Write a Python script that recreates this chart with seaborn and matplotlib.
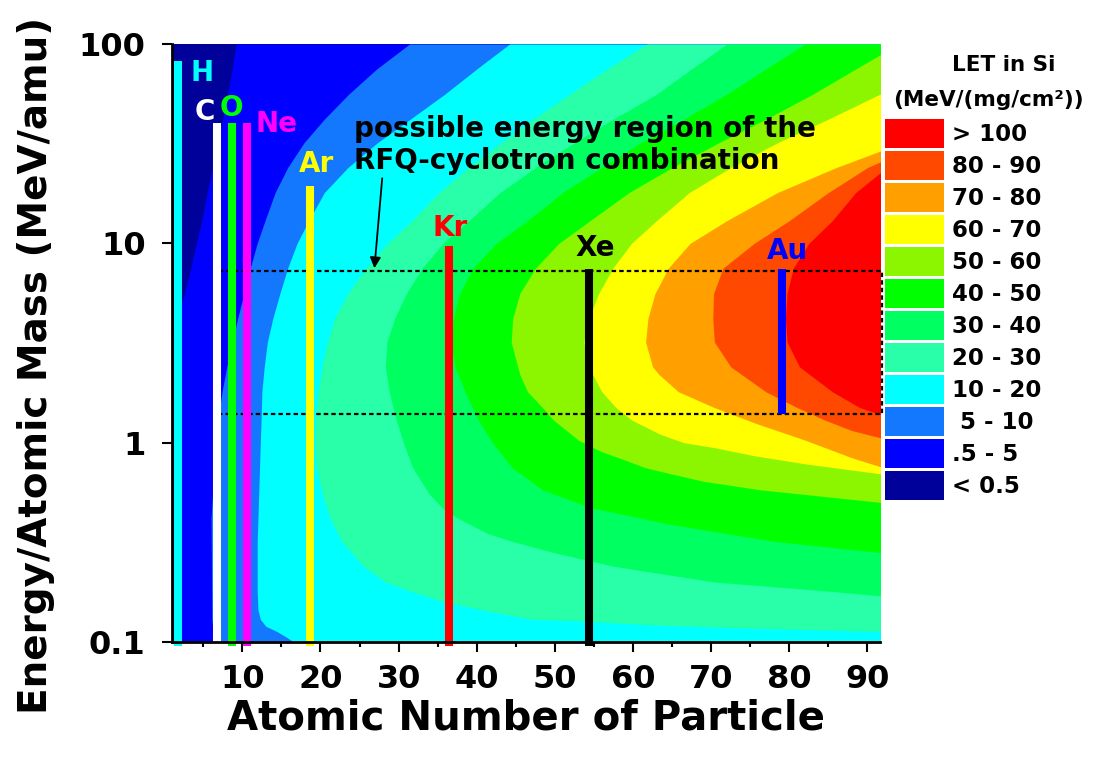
import numpy as np
import pandas as pd
import matplotlib
matplotlib.use("Agg")
import matplotlib.pyplot as plt
import seaborn as sns
from matplotlib.patches import Patch
from matplotlib.ticker import FixedLocator, NullLocator

# ------------------------------------------------------------------
# Data
# LET-in-Si band boundaries: for each level, the atomic number Z at which
# the LET reaches that level, at a set of energies (MeV/amu).
# 100 means "beyond the right edge of the chart".
# ------------------------------------------------------------------
let_0p5_e = [100, 75, 56, 42, 32, 24, 18, 13, 10, 7.5, 5.6, 4.2, 3.4, 0.1]
let_0p5_z = [9.2, 8.7, 8.1, 7.5, 6.8, 6.2, 5.5, 4.8, 4.1, 3.4, 2.6, 1.6, 1.0, 1.0]

let_5_e = [100, 75, 56, 42, 32, 24, 18, 13, 10, 7.5, 5.6, 4.2, 3.2, 2.4, 1.8, 1.3,
           1.0, 0.75, 0.56, 0.42, 0.13, 0.1]
let_5_z = [31.4, 27.2, 23.6, 20.5, 17.9, 15.8, 14.2, 12.9, 11.9, 11.0, 10.2, 9.4,
           8.7, 8.0, 7.4, 6.9, 6.6, 6.4, 6.2, 6.0, 6.1, 6.4]

let_10_e = [100, 75, 56, 42, 32, 24, 18, 13, 10, 7.5, 5.6, 4.2, 3.2, 2.4, 1.8, 1.3,
            1.0, 0.75, 0.56, 0.42, 0.32, 0.24, 0.18, 0.145, 0.13, 0.12, 0.113,
            0.106, 0.1]
let_10_z = [44.2, 40.0, 35.9, 31.5, 27.3, 23.5, 20.5, 18.5, 17.0, 15.8, 14.8, 13.9,
            13.2, 12.8, 12.5, 12.4, 12.3, 12.2, 12.1, 12.0, 11.9, 11.9, 11.9, 12.0,
            12.3, 13.0, 14.4, 15.6, 16.6]

let_20_e = [100, 75, 56, 42, 32, 24, 18, 13, 10, 7.5, 5.6, 4.2, 3.2, 2.4, 1.8, 1.3,
            1.0, 0.75, 0.56, 0.42, 0.32, 0.24, 0.2, 0.18, 0.16, 0.143, 0.13, 0.128,
            0.122, 0.117, 0.113, 0.1]
let_20_z = [61.8, 56.7, 51.9, 47.2, 43.1, 38.9, 35.2, 31.7, 28.6, 25.8, 23.5, 21.8,
            20.9, 20.2, 19.7, 19.4, 19.3, 19.5, 20.2, 21.2, 22.7, 25.5, 28.3, 31.5,
            35.6, 41.4, 47, 53, 62, 76, 92, 100]

let_30_e = [100, 75, 56, 42, 32, 24, 18, 13, 10, 7.5, 5.6, 4.2, 3.2, 2.4, 1.8, 1.3,
            1.0, 0.75, 0.56, 0.47, 0.42, 0.35, 0.32, 0.28, 0.24, 0.2, 0.18, 0.17, 0.1]
let_30_z = [72, 67.5, 63, 57.5, 52.5, 47.5, 43, 39, 35.7, 33, 31, 29.5, 28.5, 28.3,
            28.8, 29.7, 30.6, 31.8, 33.8, 35.6, 37.5, 41.4, 44.5, 50, 57.5, 70.4, 85,
            92, 100]

let_40_e = [100, 75, 56, 42, 32, 24, 18, 13, 10, 7.5, 5.6, 4.2, 3.2, 2.4, 1.8, 1.3,
            1.0, 0.75, 0.58, 0.47, 0.39, 0.32, 0.28, 0.1]
let_40_z = [82, 77, 72, 66.5, 61, 56, 51, 46.5, 42.5, 39.5, 37.8, 37, 36.7, 37.2,
            38.5, 40.2, 42, 44.5, 48.4, 54.8, 64.7, 78, 92, 100]

let_50_e = [100, 75, 56, 42, 32, 24, 18, 13, 10, 7.5, 5.6, 4.2, 3.2, 2.2, 1.8, 1.5,
            1.3, 1.03, 0.9, 0.82, 0.75, 0.7, 0.64, 0.58, 0.5, 0.1]
let_50_z = [94, 88.5, 83, 77, 71, 65, 59.5, 54.5, 50.5, 47.5, 45.5, 44.6, 44.4, 45.5,
            46.5, 48.4, 49.8, 53, 56, 58.9, 61.5, 64.7, 69, 76.3, 92, 100]

let_60_e = [100, 75, 57, 42, 32, 24, 18, 13, 10, 7.5, 5.6, 4.2, 3.2, 2.4, 1.8, 1.5,
            1.3, 1.1, 1.0, 0.944, 0.86, 0.783, 0.695, 0.1]
let_60_z = [100, 97, 92, 85, 78.5, 72.5, 67.2, 63, 59.8, 57.4, 55.6, 54.3, 53.7, 54.3,
            56, 57.8, 59.8, 63.5, 66.5, 70.4, 75.5, 82, 92, 100]

let_70_e = [100, 32, 29.4, 24, 18, 13, 10, 7.5, 5.6, 4.2, 3.2, 2.4, 2.2, 1.8, 1.5,
            1.25, 1.03, 0.84, 0.75, 0.1]
let_70_z = [100, 94, 92, 86, 78.5, 72, 67.3, 64.5, 62.8, 61.9, 61.6, 62.5, 63.3, 65.8,
            70.4, 75.7, 82, 88, 92, 100]

let_80_e = [100, 32, 27.7, 26, 24, 18, 13, 10, 7.5, 5.6, 4.2, 3.2, 2.4, 1.8, 1.5, 1.3,
            1.15, 1.05, 0.1]
let_80_z = [100, 100, 94, 92, 90, 85, 80, 75.5, 71.5, 70.3, 70.2, 70.4, 72.5, 77, 81,
            84.5, 88, 92, 100]

let_90_e = [100, 26, 23.2, 18, 13, 10, 7.5, 5.6, 4.2, 3.2, 2.4, 1.8, 1.5, 1.37, 0.1]
let_90_z = [100, 100, 92, 88.5, 85.5, 82.5, 80.5, 79.7, 79.5, 79.7, 81.3, 85.5, 89,
            92, 100]

# Legend categories (bottom band first)
band_labels = ["< 0.5", ".5 - 5", " 5 - 10", "10 - 20", "20 - 30", "30 - 40",
               "40 - 50", "50 - 60", "60 - 70", "70 - 80", "80 - 90", "> 100"]
band_colors = ["#00009a", "#0000ff", "#1478ff", "#00ffff", "#28ffa8", "#00ff60",
               "#00ff00", "#8cf500", "#ffff00", "#ffa000", "#ff4800", "#ff0000"]

# Ion beams: name, drawn atomic-number position, energy range (MeV/amu)
ions = ["H", "C", "O", "Ne", "Ar", "Kr", "Xe", "Au"]
ion_z = [1.8, 6.8, 8.7, 10.6, 18.7, 36.4, 54.3, 79.0]
ion_e_top = [82, 40, 40, 40, 19.5, 9.7, 7.4, 7.4]
ion_e_bottom = [0.096, 0.1, 0.096, 0.096, 0.096, 0.096, 0.096, 1.4]
ion_colors = ["#00ffff", "#ffffff", "#00ff00", "#ff00ff", "#ffff00", "#ff0000",
              "#000000", "#0000ff"]
ion_label_z = [4.9, 5.25, 8.6, 14.35, 19.5, 36.6, 55.2, 79.8]
ion_label_e = [71.5, 45.5, 47.6, 39.6, 24.9, 11.9, 9.44, 9.12]

# RFQ-cyclotron region
rect_z = [6.9, 91.8]
rect_e = [1.4, 7.3]
arrow_start = (27.9, 21.2)
arrow_end = (26.9, 7.5)

# ------------------------------------------------------------------
sns.set_theme(style="white")
plt.rcParams["font.family"] = ["DejaVu Sans"]
plt.rcParams["font.weight"] = "bold"
plt.rcParams["lines.solid_capstyle"] = "butt"

fig = plt.figure(figsize=(11.1, 7.62), dpi=100, facecolor="white")
ax = fig.add_axes([172 / 1110, 1 - 642 / 762, 708 / 1110, 598 / 762])

ax.set_yscale("log")
ax.set_xlim(1, 91.6)
ax.set_ylim(0.1, 100)
ax.set_facecolor(band_colors[0])

boundaries = [
    (let_0p5_e, let_0p5_z), (let_5_e, let_5_z), (let_10_e, let_10_z),
    (let_20_e, let_20_z), (let_30_e, let_30_z), (let_40_e, let_40_z),
    (let_50_e, let_50_z), (let_60_e, let_60_z), (let_70_e, let_70_z),
    (let_80_e, let_80_z), (let_90_e, let_90_z),
]
for (e, z), col in zip(boundaries, band_colors[1:]):
    ax.fill_betweenx(e, z, 100, color=col, lw=0, zorder=1)

# dotted RFQ-cyclotron rectangle
rz = [rect_z[0], rect_z[1], rect_z[1], rect_z[0], rect_z[0]]
re = [rect_e[0], rect_e[0], rect_e[1], rect_e[1], rect_e[0]]
ax.plot(rz, re, color="black", lw=1.6, ls=(0, (2.0, 1.4)), zorder=3, clip_on=False)

# ion beam lines via seaborn
ion_df = pd.DataFrame({
    "ion": np.repeat(ions, 2),
    "Z": np.repeat(ion_z, 2),
    "E": np.ravel(np.column_stack([ion_e_bottom, ion_e_top])),
})
sns.lineplot(data=ion_df, x="Z", y="E", hue="ion", estimator=None, sort=False,
             palette=dict(zip(ions, ion_colors)), linewidth=5.8, legend=False,
             ax=ax, zorder=4, clip_on=False)

for name, zx, ey, col in zip(ions, ion_label_z, ion_label_e, ion_colors):
    ax.text(zx, ey, name, color=col, fontsize=20, fontweight="bold",
            ha="center", va="center", zorder=5)

ax.text(24.3, 31.1, "possible energy region of the\nRFQ-cyclotron combination",
        fontsize=20, fontweight="bold", color="black", ha="left", va="center",
        linespacing=1.15, zorder=5)
ax.annotate("", xy=arrow_end, xytext=arrow_start,
            arrowprops=dict(arrowstyle="-|>", color="black", lw=1.3,
                            mutation_scale=16, shrinkA=0, shrinkB=0), zorder=5)

# axes styling
for s in ["top", "right"]:
    ax.spines[s].set_visible(False)
for s in ["left", "bottom"]:
    ax.spines[s].set_color("black")
    ax.spines[s].set_linewidth(2)
    ax.spines[s].set_zorder(6)

ax.xaxis.set_major_locator(FixedLocator([10, 20, 30, 40, 50, 60, 70, 80, 90]))
ax.xaxis.set_minor_locator(FixedLocator([5, 15, 25, 35, 45, 55, 65, 75, 85]))
ax.yaxis.set_major_locator(FixedLocator([0.1, 1, 10, 100]))
ax.yaxis.set_minor_locator(NullLocator())
ax.set_yticklabels(["0.1", "1", "10", "100"])
ax.tick_params(axis="both", which="major", direction="out", length=7, width=1.5,
               color="black", labelsize=23, labelcolor="black")
ax.tick_params(axis="x", which="major", pad=9, bottom=True)
ax.tick_params(axis="y", which="major", pad=12, left=True)
ax.tick_params(axis="x", which="minor", direction="out", length=3.5, width=1.5,
               color="black", bottom=True)
for lab in ax.get_xticklabels() + ax.get_yticklabels():
    lab.set_fontweight("bold")

ax.set_xlabel("Atomic Number of Particle", fontsize=29, fontweight="bold",
              color="black")
ax.set_ylabel("Energy/Atomic Mass (MeV/amu)", fontsize=28, fontweight="bold",
              color="black")
ax.xaxis.set_label_coords(0.5, -0.095)
ax.xaxis.label.set_va("top")
ax.yaxis.set_label_coords(-0.165, 0.463)

# legend
fig.text(1004 / 1110, 1 - 65 / 762, "LET in Si", fontsize=15.5, fontweight="bold",
         ha="center", va="center", color="black")
fig.text(988 / 1110, 1 - 100 / 762, "(MeV/(mg/cm\u00b2))", fontsize=15.5,
         fontweight="bold", ha="center", va="center", color="black")
handles = [Patch(facecolor=c, edgecolor="none") for c in band_colors[::-1]]
leg = fig.legend(handles, band_labels[::-1], loc="upper left",
                 bbox_to_anchor=(885 / 1110, 1 - 119 / 762),
                 bbox_transform=fig.transFigure, frameon=False,
                 fontsize=16.5, handleheight=1.57, handlelength=2.58,
                 labelspacing=0.13, handletextpad=0.35, borderpad=0,
                 borderaxespad=0)
for t in leg.get_texts():
    t.set_fontweight("bold")
    t.set_color("black")

fig.savefig("out.png", dpi=100, facecolor="white")
